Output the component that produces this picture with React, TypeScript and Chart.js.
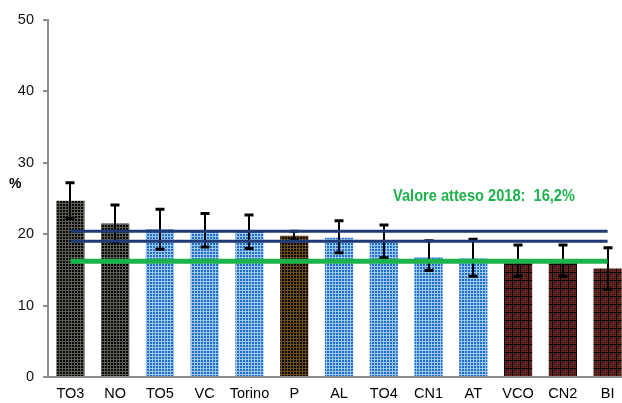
import React, { useEffect, useRef } from "react";
import { Chart, registerables } from "chart.js";

Chart.register(...registerables);

const categories = ["TO3", "NO", "TO5", "VC", "Torino", "P", "AL", "TO4", "CN1", "AT", "VCO", "CN2", "BI"];
const values = [24.7, 21.5, 20.7, 20.5, 20.3, 19.8, 19.5, 19.0, 16.8, 16.6, 16.2, 16.2, 15.2];
const errorUpper = [27.2, 24.1, 23.5, 22.9, 22.7, 20.4, 21.9, 21.3, 19.1, 19.3, 18.5, 18.5, 18.1];
const errorLower = [22.2, 18.9, 17.9, 18.2, 18.0, 19.2, 17.4, 16.7, 14.9, 14.1, 14.1, 14.1, 12.3];
const barGroup = ["A", "A", "B", "B", "B", "C", "B", "B", "B", "B", "D", "D", "D"];
const refLineUpper = 20.4;
const refLineLower = 19.0;
const expectedValue = 16.2;
const expectedLabel = "Valore atteso 2018:  16,2%";
const yTicks = [0, 10, 20, 30, 40, 50];

function makePattern(group: string): CanvasPattern | string {
  const c = document.createElement("canvas");
  const ctx = c.getContext("2d");
  if (!ctx) return "#444";
  if (group === "D") {
    c.width = 8;
    c.height = 8;
    ctx.fillStyle = "#7a2c22";
    ctx.fillRect(0, 0, 8, 8);
    ctx.fillStyle = "#4a1e1a";
    for (let i = 0; i < 8; i += 2) {
      ctx.fillRect(i, 0, 1, 8);
      ctx.fillRect(0, i, 8, 1);
    }
    ctx.fillStyle = "#000";
    ctx.fillRect(0, 0, 1, 8);
    ctx.fillRect(0, 0, 8, 1);
  } else {
    c.width = 3;
    c.height = 3;
    let bg = "#080808";
    let ln = "#5e5d55";
    if (group === "B") {
      bg = "#1f6fc8";
      ln = "#9cc6ee";
    } else if (group === "C") {
      bg = "#0a0a0a";
      ln = "#6e4c1e";
    }
    ctx.fillStyle = bg;
    ctx.fillRect(0, 0, 3, 3);
    ctx.fillStyle = ln;
    ctx.fillRect(2, 0, 1, 3);
    ctx.fillRect(0, 2, 3, 1);
  }
  const p = ctx.createPattern(c, "repeat");
  return p || "#444";
}

const errorBarPlugin = {
  id: "errorBars",
  afterDatasetDraw(chart: any, args: any) {
    if (args.index !== 0) return;
    const ctx = chart.ctx;
    const y = chart.scales.y;
    const meta = chart.getDatasetMeta(0);
    ctx.save();
    ctx.strokeStyle = "#000";
    meta.data.forEach((el: any, i: number) => {
      const x = Math.round(el.x);
      const yh = y.getPixelForValue(errorUpper[i]);
      const yl = y.getPixelForValue(errorLower[i]);
      ctx.lineWidth = 2;
      ctx.beginPath();
      ctx.moveTo(x, yh);
      ctx.lineTo(x, yl);
      ctx.stroke();
      ctx.lineWidth = 3;
      ctx.beginPath();
      ctx.moveTo(x - 4.5, yh);
      ctx.lineTo(x + 4.5, yh);
      ctx.moveTo(x - 4.5, yl);
      ctx.lineTo(x + 4.5, yl);
      ctx.stroke();
    });
    ctx.restore();
  },
};

const textPlugin = {
  id: "texts",
  afterDraw(chart: any) {
    const ctx = chart.ctx;
    ctx.save();
    ctx.fillStyle = "#000";
    ctx.font = "bold 14px 'Liberation Sans', Arial, sans-serif";
    ctx.textBaseline = "middle";
    ctx.textAlign = "left";
    ctx.fillText("%", 9, 184);
    ctx.font = "bold 16px 'Liberation Sans', Arial, sans-serif";
    ctx.fillStyle = "#1db34c";
    ctx.textBaseline = "alphabetic";
    const w = ctx.measureText(expectedLabel).width;
    ctx.translate(393, 201);
    ctx.scale(182 / w, 1);
    ctx.fillText(expectedLabel, 0, 0);
    ctx.restore();
  },
};

export default function App() {
  const ref = useRef<HTMLCanvasElement>(null);
  useEffect(() => {
    if (!ref.current) return;
    const patterns = barGroup.map((g) => makePattern(g));
    const chart = new Chart(ref.current, {
      type: "bar",
      data: {
        labels: categories,
        datasets: [
          {
            type: "bar",
            data: values,
            backgroundColor: patterns as any,
            borderWidth: 0,
            barPercentage: 0.9,
            categoryPercentage: 0.7,
            order: 2,
          },
          {
            type: "line",
            data: categories.map(() => refLineUpper),
            borderColor: "#1f3a76",
            borderWidth: 3,
            pointRadius: 0,
            fill: false,
            order: 1,
          },
          {
            type: "line",
            data: categories.map(() => refLineLower),
            borderColor: "#1f3a76",
            borderWidth: 3,
            pointRadius: 0,
            fill: false,
            order: 1,
          },
          {
            type: "line",
            data: categories.map(() => expectedValue),
            borderColor: "#1db34c",
            borderWidth: 5,
            pointRadius: 0,
            fill: false,
            order: 0,
          },
        ] as any,
      },
      options: {
        animation: false,
        responsive: false,
        devicePixelRatio: 1,
        layout: { padding: { top: 20, right: 2, bottom: 2, left: 0 } },
        plugins: { legend: { display: false }, tooltip: { enabled: false } },
        scales: {
          x: {
            afterFit: (s: any) => {
              s.height = 24;
            },
            grid: { display: false, drawTicks: false, tickLength: 0 },
            border: { display: true, color: "#8c8c8c", width: 2 },
            ticks: {
              color: "#000",
              padding: 8,
              font: { family: "'Liberation Sans', Arial, sans-serif", size: 14.5 },
              maxRotation: 0,
              autoSkip: false,
            },
          },
          y: {
            min: 0,
            max: 50,
            afterBuildTicks: (s: any) => {
              s.ticks = yTicks.map((v) => ({ value: v }));
            },
            afterFit: (s: any) => {
              s.width = 48;
            },
            grid: {
              display: true,
              drawOnChartArea: false,
              drawTicks: true,
              tickLength: 5,
              color: "#8c8c8c",
              lineWidth: 2,
            },
            border: { display: true, color: "#8c8c8c", width: 2 },
            ticks: {
              color: "#111",
              padding: 9,
              font: { family: "'Liberation Sans', Arial, sans-serif", size: 14.5 },
            },
          },
        },
      },
      plugins: [errorBarPlugin, textPlugin],
    });
    return () => chart.destroy();
  }, []);
  return (
    <div style={{ position: "fixed", left: 0, top: 0, width: 622, height: 403, overflow: "hidden", background: "#fff" }}>
      <canvas ref={ref} width={632} height={403} style={{ display: "block", width: 632, height: 403 }} />
    </div>
  );
}
